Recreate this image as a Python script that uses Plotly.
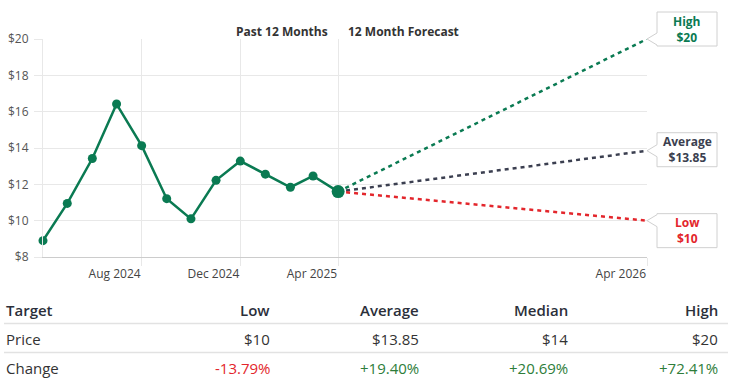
import plotly.graph_objects as go

# ---------------- data ----------------
past_dates = ["2024-04-01", "2024-05-01", "2024-06-01", "2024-07-01", "2024-08-01",
              "2024-09-01", "2024-10-01", "2024-11-01", "2024-12-01", "2025-01-01",
              "2025-02-01", "2025-03-01", "2025-04-01"]
past_prices = [8.90, 10.95, 13.42, 16.42, 14.13, 11.21, 10.10, 12.22, 13.28, 12.56, 11.84, 12.46, 11.60]

forecast_date = "2026-04-18"
forecast_labels = ["High", "Average", "Low"]
forecast_values = [20.00, 13.85, 10.00]
forecast_text = ["$20", "$13.85", "$10"]

x_tick_vals = ["2024-08-01", "2024-12-01", "2025-04-01", forecast_date]
x_tick_text = ["Aug 2024", "Dec 2024", "Apr 2025", "Apr 2026"]
y_tick_vals = [8, 10, 12, 14, 16, 18, 20]
y_tick_text = ["$8", "$10", "$12", "$14", "$16", "$18", "$20"]
y_range = [8, 20]

table_header = ["Target", "Low", "Average", "Median", "High"]
table_price = ["Price", "$10", "$13.85", "$14", "$20"]
table_change = ["Change", "-13.79%", "+19.40%", "+20.69%", "+72.41%"]

# ---------------- styles ----------------
GREEN = "#0a7a52"
DARK = "#3b3f50"
RED = "#e3262c"
forecast_colors = [GREEN, DARK, RED]
FONT = "Open Sans, Noto Sans, sans-serif"

W, H = 734, 388
L, R, T, B = 43, 87, 39, 131
PW, PH = W - L - R, H - T - B


def px(xp):
    return (xp - L) / PW


def py(yp):
    return (H - B - yp) / PH


fig = go.Figure()

# forecast dashed lines (drawn first so the last marker covers their start)
for lab, val, col in zip(forecast_labels, forecast_values, forecast_colors):
    fig.add_trace(go.Scatter(
        x=[past_dates[-1], forecast_date], y=[past_prices[-1], val],
        mode="lines", line=dict(color=col, width=2.5, dash="4px,4px"),
        hoverinfo="skip", showlegend=False, cliponaxis=False))

sizes = [9] * (len(past_prices) - 1) + [13]
fig.add_trace(go.Scatter(
    x=past_dates, y=past_prices, mode="lines+markers",
    line=dict(color=GREEN, width=2.5),
    marker=dict(color=GREEN, size=sizes, opacity=1, line=dict(width=0)),
    showlegend=False, cliponaxis=False))

# callout boxes
box_geom = {"High": (27, -7), "Average": (18, -16), "Low": (7, -27)}
for lab, val, col, txt in zip(forecast_labels, forecast_values, forecast_colors, forecast_text):
    top, bot = box_geom[lab]
    p1 = min(6, top)
    p2 = max(-6, bot)
    path = (f"M 0 0 L 10 {p1} L 10 {top} L 70 {top} L 70 {bot} L 10 {bot} L 10 {p2} Z")
    fig.add_shape(type="path", xref="x domain", yref="y domain",
                  xsizemode="pixel", ysizemode="pixel",
                  xanchor=1, yanchor=(val - y_range[0]) / (y_range[1] - y_range[0]),
                  path=path, fillcolor="white",
                  line=dict(color="#d0d0d0", width=1), layer="above")
    fig.add_annotation(x=forecast_date, y=val, xref="x", yref="y",
                       xshift=40, yshift=(top + bot) / 2,
                       text=f"<b>{lab}<br>{txt}</b>", showarrow=False,
                       font=dict(family=FONT, size=12, color=col),
                       align="center", xanchor="center", yanchor="middle")

# headers
fig.add_annotation(x="2025-04-01", y=py(31), xref="x", yref="paper", xshift=-8,
                   text="<b>Past 12 Months</b>", showarrow=False, xanchor="right",
                   yanchor="middle", font=dict(family=FONT, size=12, color="#333333"))
fig.add_annotation(x="2025-04-01", y=py(31), xref="x", yref="paper", xshift=8,
                   text="<b>12 Month Forecast</b>", showarrow=False, xanchor="left",
                   yanchor="middle", font=dict(family=FONT, size=12, color="#333333"))

# table
col_right = [None, 272, 421, 570, 720]
rows = [(table_header, 310), (table_price, 339), (table_change, 368)]
for ri, (row, yc) in enumerate(rows):
    for ci, cell in enumerate(row):
        color = "#333333"
        if ri == 2 and ci > 0:
            color = RED if cell.startswith("-") else "#2e7d3a"
        weight = 600 if ri == 0 else 400
        if ci == 0:
            xp, anchor = 4, "left"
        else:
            xp, anchor = col_right[ci], "right"
        fig.add_annotation(x=px(xp), y=py(yc), xref="paper", yref="paper",
                           text=cell, showarrow=False, xanchor=anchor, yanchor="middle",
                           font=dict(family=FONT, size=15, color=color if ri else "#2b2f3a",
                                     weight=weight))
for yl in (323.5, 352.5):
    fig.add_shape(type="line", xref="paper", yref="paper",
                  x0=px(4), x1=px(728), y0=py(yl), y1=py(yl),
                  line=dict(color="#e2e2e2", width=1.5))

fig.update_xaxes(type="date", range=[past_dates[0], forecast_date],
                 tickvals=x_tick_vals, ticktext=x_tick_text,
                 showgrid=True, gridcolor="#e8e8e8", gridwidth=1,
                 ticks="outside", ticklen=8, tickcolor="#e8e8e8",
                 ticklabelposition="outside left", ticklabelstandoff=6,
                 showline=True, linecolor="#cccccc", linewidth=1,
                 tickfont=dict(family=FONT, size=12, color="#444444"),
                 zeroline=False, fixedrange=True, automargin=False)
fig.update_yaxes(range=y_range, tickvals=y_tick_vals, ticktext=y_tick_text,
                 showgrid=True, gridcolor="#e8e8e8", gridwidth=1,
                 ticks="outside", ticklen=8, tickcolor="#e8e8e8",
                 showline=True, linecolor="#e8e8e8", linewidth=1,
                 tickfont=dict(family=FONT, size=12, color="#555555"),
                 ticklabelstandoff=3,
                 zeroline=False, fixedrange=True, automargin=False)

fig.update_layout(width=W, height=H, margin=dict(l=L, r=R, t=T, b=B),
                  paper_bgcolor="white", plot_bgcolor="white",
                  font=dict(family=FONT), showlegend=False)

fig.write_html("out.html", config={"displayModeBar": False},
               post_script="document.body.style.margin='0px';")
